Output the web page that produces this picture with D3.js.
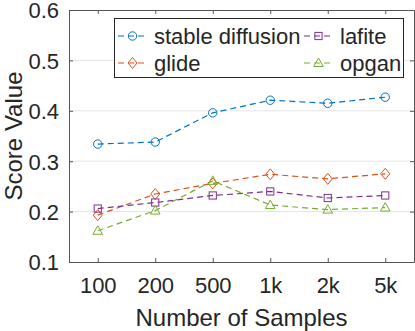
<!DOCTYPE html>
<html><head><meta charset="utf-8">
<script src="https://cdn.jsdelivr.net/npm/d3@7"></script>
<style>body{margin:0;background:#fff}svg{display:block}text{font-family:"Liberation Sans",Arial,sans-serif;fill:#262626}</style>
</head><body><div id="c"></div>
<script>
const categories = ["100","200","500","1k","2k","5k"];
const yTicks = [0.1,0.2,0.3,0.4,0.5,0.6];
const stableDiffusion = [0.334,0.338,0.396,0.421,0.415,0.427];
const glide = [0.193,0.235,0.256,0.274,0.265,0.275];
const lafite = [0.206,0.218,0.232,0.240,0.227,0.232];
const opgan = [0.162,0.202,0.261,0.213,0.204,0.208];
const seriesNames = ["stable diffusion","glide","lafite","opgan"];
const seriesColors = ["#0072BD","#D95319","#7E2F8E","#77AC30"];
const seriesMarkers = ["circle","diamond","square","triangle"];
const seriesValues = [stableDiffusion, glide, lafite, opgan];

const W=415,H=331, L=69,R=414,T=10,B=262;
const svg=d3.select("#c").append("svg").attr("width",W).attr("height",H);
const x=d3.scaleLinear().domain([-0.5,categories.length-0.5]).range([L,R]);
const y=d3.scaleLinear().domain([0.1,0.6]).range([B,T]);

// grid
svg.append("g").selectAll("line").data(yTicks.filter(t=>t>0.1&&t<0.6)).join("line")
  .attr("x1",L).attr("x2",R).attr("y1",d=>y(d)).attr("y2",d=>y(d))
  .attr("stroke","#e5e5e5").attr("stroke-width",1);

// axes
const ax=svg.append("g").attr("transform",`translate(0,${B})`)
  .call(d3.axisBottom(x).tickValues(d3.range(categories.length)).tickFormat(i=>categories[i]).tickSizeInner(-4).tickSizeOuter(0).tickPadding(14));
const ay=svg.append("g").attr("transform",`translate(${L},0)`)
  .call(d3.axisLeft(y).tickValues(yTicks).tickFormat(d3.format(".1f")).tickSizeInner(-4).tickSizeOuter(0).tickPadding(10));
const axT=svg.append("g").attr("transform",`translate(0,${T})`)
  .call(d3.axisTop(x).tickValues(d3.range(categories.length)).tickFormat("").tickSizeInner(-4).tickSizeOuter(0));
const ayR=svg.append("g").attr("transform",`translate(${R},0)`)
  .call(d3.axisRight(y).tickValues(yTicks).tickFormat("").tickSizeInner(-4).tickSizeOuter(0));
[ax,ay,axT,ayR].forEach(g=>{
  g.selectAll("path,line").attr("stroke","#555").attr("stroke-width",1);
  g.selectAll("text").style("font-size","22px").attr("fill","#262626").style("font-family","'Liberation Sans',Arial,sans-serif");
});
ax.selectAll("text").attr("dy","0.75em");
ay.selectAll("text").attr("dy","0.36em");

svg.append("text").attr("x",(L+R)/2).attr("y",326).attr("text-anchor","middle").style("font-size","24px").text("Number of Samples");
svg.append("text").attr("transform",`translate(22,${(T+B)/2}) rotate(-90)`).attr("text-anchor","middle").style("font-size","24px").text("Score Value");

function drawMarker(g,type,cx,cy,color){
  if(type==="circle") g.append("circle").attr("cx",cx).attr("cy",cy).attr("r",4.2).attr("fill","none").attr("stroke",color).attr("stroke-width",1);
  else if(type==="diamond") g.append("path").attr("d",`M${cx},${cy-5.5}L${cx+4.5},${cy}L${cx},${cy+5.5}L${cx-4.5},${cy}Z`).attr("fill","none").attr("stroke",color);
  else if(type==="square") g.append("rect").attr("x",cx-3.6).attr("y",cy-3.6).attr("width",7.2).attr("height",7.2).attr("fill","none").attr("stroke",color);
  else g.append("path").attr("d",`M${cx},${cy-5}L${cx+4.8},${cy+3.5}L${cx-4.8},${cy+3.5}Z`).attr("fill","none").attr("stroke",color);
}

const line=d3.line().x((d,i)=>x(i)).y(d=>y(d));
seriesValues.forEach((vals,s)=>{
  const g=svg.append("g");
  g.append("path").attr("d",line(vals)).attr("fill","none").attr("stroke",seriesColors[s]).attr("stroke-width",1.2).attr("stroke-dasharray","6,4");
  vals.forEach((v,i)=>drawMarker(g,seriesMarkers[s],x(i),y(v),seriesColors[s]));
});

// legend
const lg=svg.append("g");
lg.append("rect").attr("x",114.5).attr("y",18.5).attr("width",289).attr("height",59).attr("fill","#fff").attr("stroke","#262626").attr("stroke-width",1);
const pos=[[118,36],[118,63],[304,36],[304,63]];
seriesNames.forEach((n,s)=>{
  const [lx,ly]=pos[s];
  lg.append("line").attr("x1",lx).attr("x2",lx+29).attr("y1",ly).attr("y2",ly).attr("stroke",seriesColors[s]).attr("stroke-width",1.2).attr("stroke-dasharray","6,4");
  drawMarker(lg,seriesMarkers[s],lx+14.5,ly,seriesColors[s]);
  lg.append("text").attr("x",lx+36).attr("y",ly).attr("dy","0.35em").style("font-size","22px").text(n);
});
</script></body></html>
